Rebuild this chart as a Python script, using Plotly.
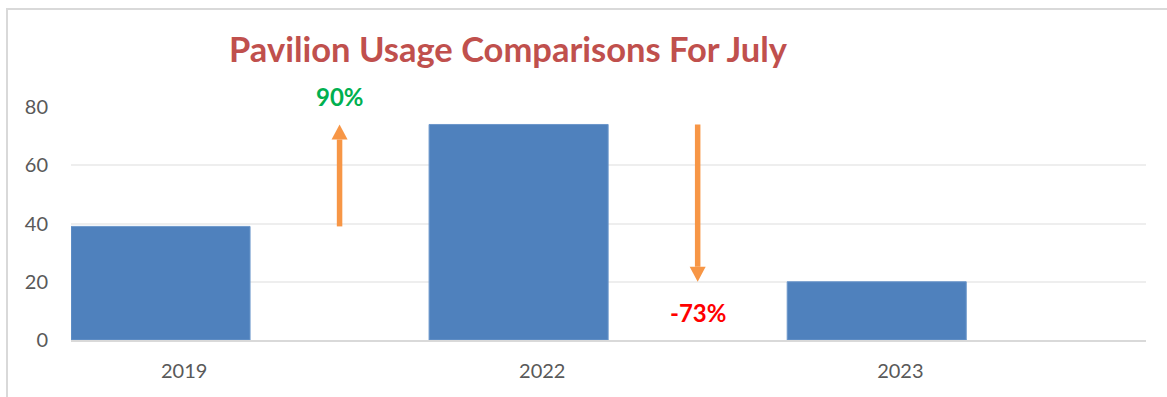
import plotly.graph_objects as go

# Pavilion usage counts for July
years = ["2019", "2022", "2023"]
usage = [39, 74, 20]

# Percentage change between consecutive years
changes = [round((usage[i + 1] - usage[i]) / usage[i] * 100) for i in range(len(usage) - 1)]
change_labels = [f"{c}%" for c in changes]
change_colors = ["#00B050" if c >= 0 else "#FF0000" for c in changes]

W, H = 1167, 397
ML, MR, MT, MB = 71, 21, 107, 57
plot_w = W - ML - MR
plot_h = H - MT - MB

BAR_OFFSET = -0.316
BAR_WIDTH = 0.5
ARROW_X = 0.434          # horizontal position of change arrows, relative to a year
Y_MAX = 80

xs = list(range(len(years)))

fig = go.Figure()
fig.add_trace(go.Bar(
    x=xs, y=usage,
    width=BAR_WIDTH, offset=BAR_OFFSET,
    marker=dict(color="#4F81BD", line=dict(color="#6C97CB", width=1)),
    hoverinfo="x+y",
))

shapes = []
annotations = []

# unit conversions for arrowheads
px_per_x = plot_w / 3.002
px_per_y = plot_h / Y_MAX
head_half_w = 8 / px_per_x
head_h = 15 / px_per_y

for i, c in enumerate(changes):
    ax = xs[i] + ARROW_X
    y_from, y_to = usage[i], usage[i + 1]
    direction = 1 if y_to > y_from else -1
    base = y_to - direction * head_h
    shapes.append(dict(type="line", xref="x", yref="y", x0=ax, x1=ax, y0=y_from, y1=base,
                       line=dict(color="#F79646", width=5.5)))
    shapes.append(dict(type="path", xref="x", yref="y",
                       path=f"M {ax - head_half_w} {base} L {ax + head_half_w} {base} L {ax} {y_to} Z",
                       fillcolor="#F79646", line=dict(color="#F79646", width=0)))
    yshift = 28 if direction > 0 else -31
    annotations.append(dict(x=ax, y=y_to, xref="x", yref="y", yshift=yshift,
                            text=f"<b>{change_labels[i]}</b>", showarrow=False,
                            font=dict(family="Lato", size=24, color=change_colors[i]),
                            bgcolor="white", borderpad=4))

# chart frame
shapes.append(dict(type="rect", xref="paper", yref="paper",
                   x0=(7 - ML) / plot_w, x1=1.2,
                   y0=-0.5, y1=(H - MB - 9) / plot_h,
                   line=dict(color="#D9D9D9", width=2), layer="below"))

annotations.append(dict(x=(508 - ML) / plot_w, y=(H - MB - 48) / plot_h,
                        xref="paper", yref="paper", showarrow=False,
                        text="<b>Pavilion Usage Comparisons For July</b>",
                        font=dict(family="Lato", size=34.5, color="#C0504D"),
                        xanchor="center", yanchor="middle"))

fig.update_layout(
    width=W, height=H, autosize=False,
    margin=dict(l=ML, r=MR, t=MT, b=MB),
    plot_bgcolor="white", paper_bgcolor="white",
    showlegend=False,
    shapes=shapes, annotations=annotations,
    font=dict(family="Lato", color="#595959"),
)
fig.update_xaxes(
    range=[BAR_OFFSET, BAR_OFFSET + 3.002],
    tickvals=xs, ticktext=years,
    tickfont=dict(size=20, color="#595959"),
    showgrid=False, showline=True, linecolor="#D9D9D9", linewidth=2,
    ticks="", ticklabelstandoff=12, zeroline=False,
)
fig.update_yaxes(
    range=[0, Y_MAX], dtick=20,
    tickfont=dict(size=20, color="#595959"),
    showgrid=True, gridcolor="#EEEEEE", gridwidth=2,
    showline=False, zeroline=False, ticks="", ticklabelstandoff=22,
)

fig.write_html("out.html")
